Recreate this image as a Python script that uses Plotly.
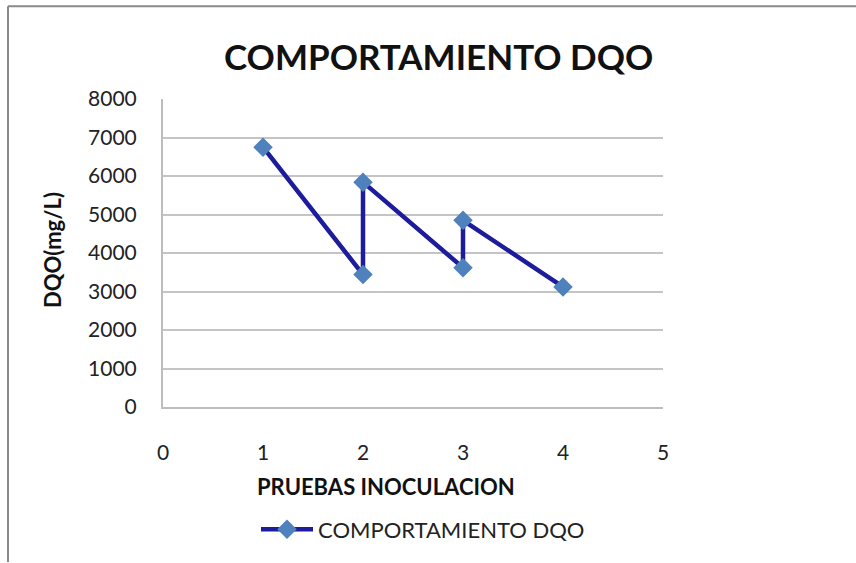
import plotly.graph_objects as go

# Data
x_vals = [1, 2, 2, 3, 3, 4]
y_vals = [6750, 3440, 5840, 3620, 4850, 3120]
y_ticks = [0, 1000, 2000, 3000, 4000, 5000, 6000, 7000, 8000]
x_ticks = [0, 1, 2, 3, 4, 5]
series_name = "COMPORTAMIENTO DQO"
title_text = "COMPORTAMIENTO DQO"
x_title = "PRUEBAS INOCULACION"
y_title = "DQO(mg/L)"

W, H = 856, 563
L, R, T, B = 163, 193, 99, 152
pw, ph = W - L - R, H - T - B

def px(x):
    return (x - L) / pw

def py(y):
    return (H - B - y) / ph

FONT = "Lato"

fig = go.Figure()
fig.add_trace(go.Scatter(
    x=x_vals, y=y_vals, mode="lines+markers", name=series_name,
    line=dict(color="#1c1c9c", width=4.5),
    marker=dict(symbol="diamond", size=15, color="#4f81bd",
                line=dict(width=0)),
))

fig.update_layout(
    width=W, height=H,
    margin=dict(l=L, r=R, t=T, b=B),
    paper_bgcolor="white", plot_bgcolor="white",
    font=dict(family=FONT, color="#222", size=20),
    showlegend=True,
    legend=dict(orientation="h", x=px(256), y=py(535), xanchor="left", yanchor="middle",
                xref="paper", yref="paper", itemwidth=52,
                font=dict(family=FONT, size=22, color="#222"),
                bgcolor="rgba(0,0,0,0)"),
    xaxis=dict(range=[0, 5], tickvals=x_ticks, showgrid=False, zeroline=False,
               showline=True, linecolor="#bdbdbd", linewidth=2,
               ticks="outside", ticklen=26, tickcolor="rgba(0,0,0,0)",
               tickfont=dict(family=FONT, size=21, color="#222"), fixedrange=True),
    yaxis=dict(range=[0, 8000], tickvals=y_ticks, showgrid=True, gridcolor="#c4c4c4",
               gridwidth=2, zeroline=False, showline=True, linecolor="#bdbdbd",
               linewidth=2, ticks="outside", ticklen=20, tickcolor="rgba(0,0,0,0)",
               tickfont=dict(family=FONT, size=21, color="#222"), fixedrange=True),
)

fig.add_annotation(text="<b>" + title_text + "</b>", x=px(438), y=py(55),
                   xref="paper", yref="paper", showarrow=False,
                   xanchor="center", yanchor="middle",
                   font=dict(family=FONT, size=35, color="#111"))
fig.add_annotation(text="<b>" + x_title + "</b>", x=px(386), y=py(492),
                   xref="paper", yref="paper", showarrow=False,
                   xanchor="center", yanchor="middle",
                   font=dict(family=FONT, size=22, color="#111"))
fig.add_annotation(text="<b>" + y_title + "</b>", x=px(52), y=py(252),
                   xref="paper", yref="paper", showarrow=False, textangle=-90,
                   xanchor="center", yanchor="middle",
                   font=dict(family=FONT, size=22, color="#111"))

# outer chart frame (left and top edges visible)
fig.add_shape(type="line", xref="paper", yref="paper",
              x0=px(8), x1=px(8), y0=py(5), y1=py(H + 5),
              line=dict(color="#8a8a8a", width=2))
fig.add_shape(type="line", xref="paper", yref="paper",
              x0=px(8), x1=px(W + 5), y0=py(5), y1=py(5),
              line=dict(color="#8a8a8a", width=2))

fig.write_html("out.html")
